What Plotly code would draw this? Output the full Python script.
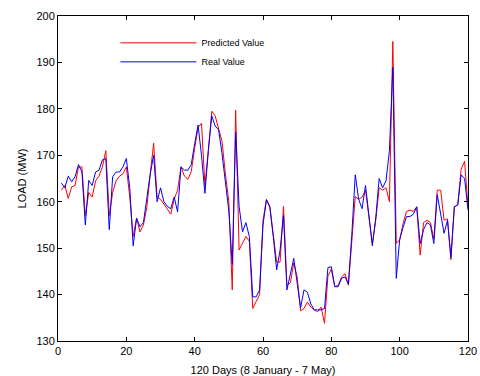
import plotly.graph_objects as go

days = list(range(1, 121))

real_value = [
    164, 163, 165.5, 164.3, 165.4, 168, 166.4, 155, 164.6, 163.5,
    166.4, 166.8, 169, 169.3, 154, 165.4, 166.4, 166.4, 167.5, 169.3,
    163, 150.5, 156.4, 154.6, 155.5, 161, 166, 170, 160, 163,
    160, 159, 158.5, 161, 157.8, 167.5, 166.8, 166.8, 168, 172.5,
    176.5, 170, 161.8, 171, 178.5, 176.3, 175.5, 170.4, 164.7, 158,
    146.5, 175, 159, 153.5, 155.5, 152.5, 139.5, 139.5, 141, 155,
    160.4, 158.8, 152.5, 145.3, 149.6, 157, 141, 144.5, 147.8, 142.5,
    137.2, 141, 140.5, 138, 136.7, 136.7, 136.7, 137, 145.8, 146,
    141.7, 141.7, 143.5, 143.8, 142.3, 153, 165.8, 160.5, 158.5, 163.5,
    156.5, 150.5, 156.5, 165, 163, 164.5, 171, 189, 143.5, 151.8,
    154.5, 156.8, 156.8, 157.3, 158.9, 151, 154, 155.5, 155, 151,
    161.5, 157, 153.2, 156, 148, 158.9, 159.3, 165.8, 165, 158.2,
]

predicted_value = [
    162.5, 163.5, 160.7, 163.2, 163.5, 167.5, 167.5, 157, 162, 161,
    164.5, 165.5, 167.5, 171, 157, 162, 164.5, 165.5, 166, 167.5,
    161, 152.5, 156.5, 153.5, 155, 158.8, 166, 172.6, 161, 160.5,
    159.5, 158.5, 157.3, 160.5, 162.5, 167.5, 165.5, 164.8, 166.5, 171.5,
    176, 176.9, 163.5, 171, 179.5, 178.5, 176, 173, 166, 160,
    141, 179.7, 149.6, 151, 152.5, 151.5, 137, 138.5, 140, 156,
    160.5, 159, 152.5, 147, 147, 159, 142, 142.5, 146.8, 143.8,
    136.5, 137, 138.4, 137.3, 136.7, 136.3, 137.3, 133.8, 144, 145.5,
    141.7, 142, 143.8, 144.5, 142, 152, 161.1, 160.5, 161, 162.5,
    157, 151, 156, 163, 162.5, 163, 160, 194.5, 151, 151.8,
    155.3, 157.9, 158.2, 157.9, 158.9, 148.5, 155.5, 156, 155.5, 152,
    162.5, 162.5, 156, 156.3, 147.5, 158.9, 159.3, 167, 168.7, 159,
]

x_ticks = [0, 20, 40, 60, 80, 100, 120]
y_ticks = [130, 140, 150, 160, 170, 180, 190, 200]

fig = go.Figure()
fig.add_trace(go.Scatter(x=days, y=predicted_value, mode="lines",
                         name="Predicted Value",
                         line=dict(color="#ff0000", width=1)))
fig.add_trace(go.Scatter(x=days, y=real_value, mode="lines",
                         name="Real Value",
                         line=dict(color="#0000ff", width=1)))

axis_common = dict(showline=True, linecolor="black", linewidth=1,
                   mirror="ticks", ticks="inside", ticklen=4,
                   tickcolor="black", showgrid=False, zeroline=False,
                   automargin=False, ticklabeloverflow="allow",
                   tickfont=dict(family="Liberation Sans, Arial", size=11,
                                 color="black"))

fig.update_xaxes(range=[0, 120], tickvals=x_ticks,
                 title=dict(text="120 Days (8 January - 7 May)", standoff=10,
                            font=dict(family="Liberation Sans, Arial",
                                      size=11, color="black")),
                 **axis_common)
fig.update_yaxes(range=[130, 200], tickvals=y_ticks,
                 title=dict(text="LOAD (MW)", standoff=7,
                            font=dict(family="Liberation Sans, Arial",
                                      size=11, color="black")),
                 **axis_common)

fig.update_layout(
    width=480, height=376,
    margin=dict(l=58, r=12, t=16, b=35),
    paper_bgcolor="white", plot_bgcolor="white",
    showlegend=True,
    legend=dict(x=0.14, y=0.962, xanchor="left", yanchor="top",
                bgcolor="rgba(0,0,0,0)", borderwidth=0,
                itemwidth=76, tracegroupgap=0,
                font=dict(family="Liberation Sans, Arial", size=9,
                          color="black")),
)

fig.write_html(
    "out.html",
    config={"displayModeBar": False},
    post_script="document.body.style.margin='0';"
                "document.body.style.overflow='hidden';"
                "document.documentElement.style.overflow='hidden';",
)
